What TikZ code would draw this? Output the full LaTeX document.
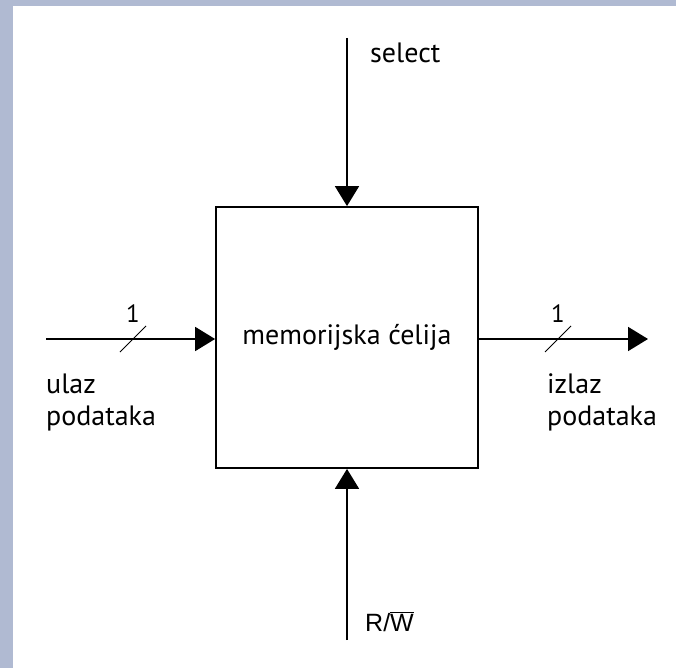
\documentclass[tikz,border=0pt]{standalone}
\usepackage{fontspec}
\setmainfont{PT Sans}
\newfontfamily\rwfont{Liberation Sans}
\usetikzlibrary{arrows.meta,calc}
\definecolor{bandcol}{HTML}{B0BAD2}
\tikzset{
  sig/.style={line width=1.8pt,-{Triangle[width=24pt,length=20pt]}},
  slashmark/.style={line width=0.9pt},
  lbl/.style={font=\fontsize{28}{32}\selectfont,inner sep=0pt},
  num/.style={font=\fontsize{25}{28}\selectfont,inner sep=0pt},
}
\begin{document}
\begin{tikzpicture}[x=1pt,y=-1pt]
\useasboundingbox (0,0) rectangle (676,668);
\fill[white] (0,0) rectangle (676,668);
\fill[bandcol] (0,0) rectangle (676,6);
\fill[bandcol] (0,0) rectangle (13,668);
% box
\node[draw,line width=1.8pt,minimum width=262pt,minimum height=261pt,inner sep=0pt,
      font=\fontsize{28}{32}\selectfont] (cell) at (347,337.5) {memorijska ćelija};
% select
\coordinate (selS) at (347,38);
\draw[sig] (selS) -- (cell.north);
\node[lbl,anchor=base west] (sel) at (370,63) {select};
% R/W
\coordinate (rwS) at (347,640);
\draw[sig] (rwS) -- (cell.south);
\node[lbl,anchor=base west,font=\rwfont\fontsize{25}{30}\selectfont] (rw) at (365,631) {R/$\overline{\mbox{W}}$};
% input
\coordinate (inS) at (46,339);
\draw[sig] (inS) -- (cell.west |- inS);
\coordinate (inM) at (133,339);
\draw[slashmark] ($(inM)+(-13,13)$) -- ($(inM)+(13,-13)$);
\node[num,anchor=base] (in1) at (133,322) {1};
\node[lbl,anchor=base west,align=left] (inL) at (46,393) {ulaz};
\node[lbl,anchor=base west] (inL2) at (46,425) {podataka};
% output
\coordinate (outE) at (648,339);
\draw[sig] (cell.east |- outE) -- (outE);
\coordinate (outM) at (558,339);
\draw[slashmark] ($(outM)+(-13,13)$) -- ($(outM)+(13,-13)$);
\node[num,anchor=base] (out1) at (558,322) {1};
\node[lbl,anchor=base west] (outL) at (547,393) {izlaz};
\node[lbl,anchor=base west] (outL2) at (547,425) {podataka};
\end{tikzpicture}
\end{document}
